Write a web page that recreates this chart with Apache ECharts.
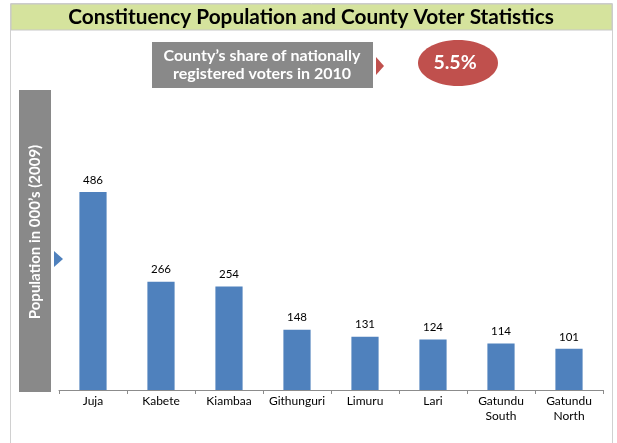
<!DOCTYPE html>
<html><head><meta charset="utf-8">
<script src="https://cdn.jsdelivr.net/npm/echarts@6/dist/echarts.min.js"></script>
<style>html,body{margin:0;padding:0;background:#fff}#c{width:617px;height:443px}</style>
</head><body><div id="c"></div>
<script>
const categories = ['Juja','Kabete','Kiambaa','Githunguri','Limuru','Lari','Gatundu\nSouth','Gatundu\nNorth'];
const population = [486,266,254,148,131,124,114,101];
const titleText = 'Constituency Population and County Voter Statistics';
const yAxisTitle = 'Population in 000\u2019s (2009)';
const shareLabel = 'County\u2019s share of nationally\nregistered voters in 2010';
const shareValue = '5.5%';

const FONT = 'Lato, "Open Sans", sans-serif';
const chart = echarts.init(document.getElementById('c'), null, {renderer:'canvas'});
chart.setOption({
  animation:false,
  grid:{left:59, right:14, top:145.6, bottom:53, containLabel:false},
  xAxis:{type:'category', data:categories,
    axisLine:{lineStyle:{color:'#8c8c8c',width:1}},
    axisTick:{show:true,length:4,lineStyle:{color:'#8c8c8c'}},
    axisLabel:{color:'#000',fontFamily:FONT,fontSize:12,lineHeight:15,margin:4,interval:0}},
  yAxis:{type:'value',min:0,max:600,show:false,splitLine:{show:false}},
  series:[{type:'bar',data:population,barCategoryGap:'60%',
    itemStyle:{color:'#4f81bd'},
    label:{show:true,position:'top',color:'#000',fontFamily:FONT,fontSize:11.5,distance:6}}],
  graphic:[
    {type:'rect',shape:{x:10.5,y:3.5,width:602,height:480},style:{fill:'none',stroke:'#d0d0d0',lineWidth:1},z:-1},
    {type:'rect',shape:{x:11,y:4,width:601,height:26},style:{fill:'#d5e39d',stroke:'#c8c8c8',lineWidth:1}},
    {type:'text',x:311,y:17,style:{text:titleText,fontFamily:FONT,fontWeight:'bold',fontSize:20.8,fill:'#000',align:'center',verticalAlign:'middle'}},
    {type:'rect',shape:{x:152,y:42,width:221,height:46},style:{fill:'#898989'}},
    {type:'text',x:262,y:65,style:{text:shareLabel,fontFamily:FONT,fontWeight:'bold',fontSize:16,lineHeight:18,fill:'#fff',align:'center',verticalAlign:'middle'}},
    {type:'polygon',shape:{points:[[376,57],[384,66],[376,75]]},style:{fill:'#c0504d'}},
    {type:'ellipse',shape:{cx:458,cy:63,rx:40,ry:23},style:{fill:'#c0504d'}},
    {type:'text',x:455,y:63,style:{text:shareValue,fontFamily:FONT,fontWeight:'bold',fontSize:19.5,fill:'#fff',align:'center',verticalAlign:'middle'}},
    {type:'rect',shape:{x:19,y:90,width:32,height:302},style:{fill:'#898989'}},
    {type:'text',x:35,y:232,rotation:Math.PI/2,style:{text:yAxisTitle,fontFamily:FONT,fontWeight:'bold',fontSize:15,fill:'#fff',align:'center',verticalAlign:'middle'}},
    {type:'polygon',shape:{points:[[54,251],[63,259],[54,267]]},style:{fill:'#4f81bd'}}
  ]
});
</script></body></html>
